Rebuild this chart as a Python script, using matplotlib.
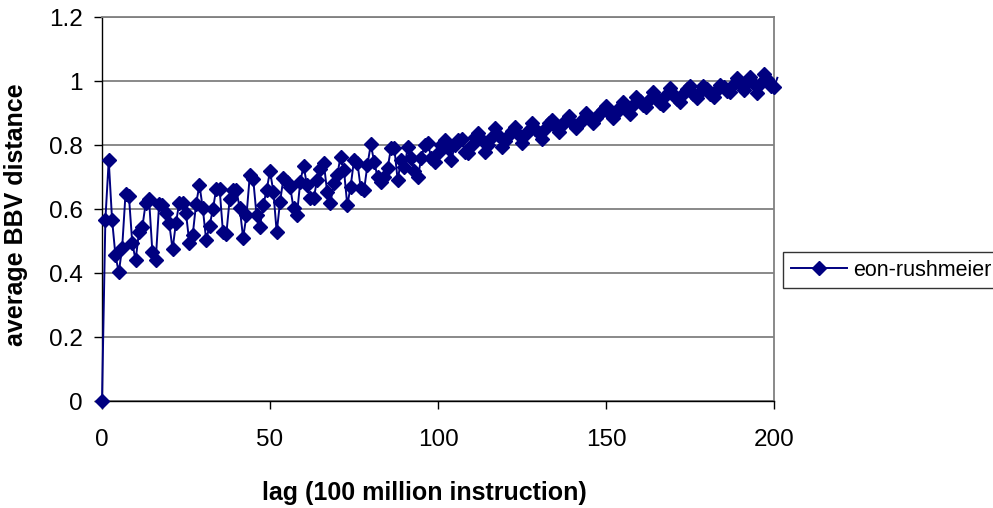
import matplotlib
matplotlib.use("Agg")
import matplotlib.pyplot as plt
import numpy as np

# average BBV distance per lag, eon-rushmeier
lag = list(range(0, 202))
avg_dist = [
    0.000, 0.566, 0.752, 0.566, 0.455, 0.402, 0.479, 0.648, 0.642, 0.495,
    0.440, 0.527, 0.543, 0.618, 0.631, 0.465, 0.440, 0.616, 0.614, 0.588,
    0.556, 0.474, 0.556, 0.620, 0.620, 0.586, 0.495, 0.519, 0.616, 0.675,
    0.602, 0.503, 0.547, 0.599, 0.663, 0.663, 0.528, 0.522, 0.631, 0.659,
    0.659, 0.602, 0.510, 0.580, 0.706, 0.693, 0.580, 0.545, 0.612, 0.659,
    0.719, 0.654, 0.527, 0.623, 0.696, 0.685, 0.670, 0.602, 0.580, 0.685,
    0.735, 0.675, 0.633, 0.633, 0.690, 0.724, 0.745, 0.654, 0.620, 0.680,
    0.706, 0.763, 0.722, 0.612, 0.670, 0.753, 0.745, 0.665, 0.659, 0.738,
    0.802, 0.748, 0.700, 0.685, 0.701, 0.727, 0.790, 0.790, 0.690, 0.753,
    0.730, 0.793, 0.758, 0.720, 0.699, 0.758, 0.800, 0.805, 0.758, 0.748,
    0.775, 0.800, 0.816, 0.790, 0.753, 0.800, 0.815, 0.820, 0.779, 0.774,
    0.800, 0.826, 0.837, 0.815, 0.779, 0.800, 0.826, 0.852, 0.830, 0.795,
    0.812, 0.831, 0.845, 0.857, 0.830, 0.805, 0.830, 0.847, 0.868, 0.850,
    0.837, 0.820, 0.852, 0.870, 0.878, 0.855, 0.842, 0.862, 0.878, 0.890,
    0.870, 0.852, 0.866, 0.878, 0.901, 0.885, 0.868, 0.885, 0.898, 0.910,
    0.922, 0.900, 0.883, 0.900, 0.915, 0.935, 0.915, 0.898, 0.925, 0.951,
    0.938, 0.925, 0.920, 0.945, 0.967, 0.950, 0.932, 0.925, 0.955, 0.977,
    0.960, 0.945, 0.935, 0.960, 0.975, 0.983, 0.960, 0.946, 0.965, 0.983,
    0.975, 0.958, 0.951, 0.972, 0.988, 0.982, 0.970, 0.967, 0.990, 1.008,
    0.990, 0.972, 0.995, 1.014, 0.990, 0.962, 0.995, 1.022, 1.005, 0.985,
    0.980, 1.010,
]

x_ticks = [0, 50, 100, 150, 200]
y_ticks = [0, 0.2, 0.4, 0.6, 0.8, 1.0, 1.2]
y_labels = ["0", "0.2", "0.4", "0.6", "0.8", "1", "1.2"]

plt.rcParams["font.family"] = ["Liberation Sans", "DejaVu Sans"]

navy = "#000080"
grid_grey = "#808080"

fig = plt.figure(figsize=(9.93, 5.08), dpi=100)
ax = fig.add_axes([102 / 993, 1 - 401 / 508, 672 / 993, 384 / 508])

# line runs slightly past the frame; markers only up to lag 200
ax.plot(lag, avg_dist, color=navy, linewidth=1.4, clip_on=False, zorder=3)
ax.plot(lag, avg_dist, color=navy, linestyle="none", marker="D",
        markersize=7, markevery=slice(0, 201), clip_on=False, zorder=4,
        label="_nolegend_")
ax.plot([], [], color=navy, linewidth=1.4, marker="D", markersize=7,
        label="eon-rushmeier")

ax.set_xlim(0, 200)
ax.set_ylim(0, 1.2)
ax.set_xticks(x_ticks)
ax.set_yticks(y_ticks)
ax.set_yticklabels(y_labels)

ax.yaxis.grid(True, color=grid_grey, linewidth=1.3)
ax.set_axisbelow(True)

for side in ["top", "right"]:
    ax.spines[side].set_color(grid_grey)
    ax.spines[side].set_linewidth(1.3)
for side in ["left", "bottom"]:
    ax.spines[side].set_color("black")
    ax.spines[side].set_linewidth(1.0)

ax.tick_params(axis="y", direction="out", length=6, width=1.0,
               labelsize=17.5, pad=8)
ax.tick_params(axis="x", direction="out", length=6, width=1.0,
               labelsize=17.5, pad=14)

ax.set_xlabel("lag (100 million instruction)", fontsize=18,
              fontweight="bold")
ax.set_ylabel("average BBV distance", fontsize=18, fontweight="bold")
ax.xaxis.set_label_coords(0.479, -0.208)
ax.yaxis.set_label_coords(-0.110, 0.484)

leg = ax.legend(loc="upper left", bbox_to_anchor=(783 / 993, 1 - 252 / 508),
                bbox_transform=fig.transFigure, frameon=True, fancybox=False,
                fontsize=15.5, handlelength=2.6, borderpad=0.35,
                handletextpad=0.3, borderaxespad=0)
leg.get_frame().set_edgecolor("black")
leg.get_frame().set_linewidth(1.0)

fig.savefig("out.png", dpi=100)
